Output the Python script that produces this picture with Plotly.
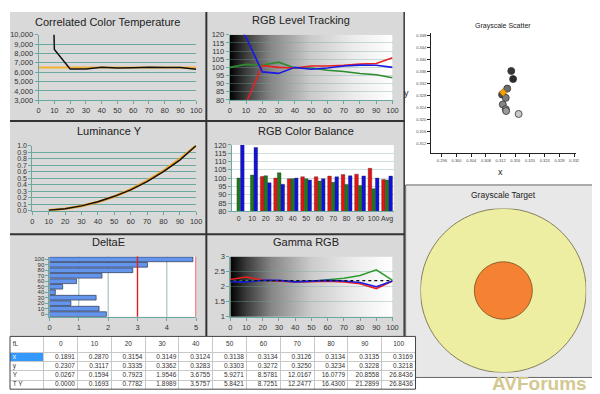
import base64
import plotly.graph_objects as go

# ---------------- data ----------------
levels = [0, 10, 20, 30, 40, 50, 60, 70, 80, 90, 100]
level_labels = [str(v) for v in levels]
balance_labels = level_labels + ["Avg"]

cct_measured = [77000, 8430, 6330, 6340, 6530, 6440, 6480, 6540, 6510, 6510, 6320]
cct_target = [6500] * 11

red_level = [50, 78, 101.0, 100.0, 99.6, 100.8, 100.8, 101.2, 102.1, 102.4, 105.9]
green_level = [100.0, 101.8, 101.4, 103.2, 99.6, 99.6, 98.2, 97.5, 96.2, 95.5, 93.6]
blue_level = [135, 118.5, 97.2, 96.3, 100.0, 98.8, 99.6, 100.8, 101.4, 101.3, 100.0]
avg_red, avg_green, avg_blue = 99.2, 98.8, 101.2

gamma_red = [2.24, 2.32, 2.22, 2.20, 2.16, 2.17, 2.18, 2.16, 2.10, 1.94, 2.19]
gamma_green = [2.18, 2.19, 2.21, 2.19, 2.17, 2.18, 2.24, 2.28, 2.37, 2.56, 2.21]
gamma_blue = [2.17, 2.16, 2.21, 2.21, 2.16, 2.19, 2.21, 2.19, 2.14, 2.00, 2.19]
gamma_target = [2.2] * 11

delta_e = [1.94, 1.69, 0.73, 1.59, 0.20, 0.45, 0.92, 1.79, 2.84, 3.34, 4.89]
delta_e_limits = [3, 5]
delta_e_grid = [1, 2, 4]

x_vals = [0.1891, 0.2870, 0.3154, 0.3149, 0.3124, 0.3138, 0.3134, 0.3126, 0.3134, 0.3135, 0.3169]
y_vals = [0.2307, 0.3117, 0.3335, 0.3362, 0.3283, 0.3303, 0.3272, 0.3250, 0.3234, 0.3228, 0.3218]
Y_vals = [0.0267, 0.1594, 0.7923, 1.9546, 3.6755, 5.9271, 8.5781, 12.0167, 16.0779, 20.8558, 26.8436]
TY_vals = [0.0000, 0.1693, 0.7782, 1.8989, 3.5757, 5.8421, 8.7251, 12.2477, 16.4300, 21.2899, 26.8436]
table_row_labels = ["x", "y", "Y", "T Y"]
table_corner = "fL"

white_point = (0.3127, 0.3290)
target_radii = [3.0, 1.05]

# ---------------- helpers ----------------
W, H = 600, 394
FONT = "Liberation Sans, Arial, sans-serif"
TEAL = "#6aa8a0"


def dx(a, b):
    return [a / W, b / W]


def dy(a, b):
    return [1 - b / H, 1 - a / H]


def ax(**kw):
    d = dict(showline=True, linecolor=TEAL, linewidth=1, ticks="outside", ticklen=3,
             tickcolor=TEAL, tickfont=dict(size=7.5, color="#333", family=FONT),
             zeroline=False, showgrid=False)
    d.update(kw)
    return d


fig = go.Figure()

# CCT
fig.add_trace(go.Scatter(x=levels, y=cct_target, mode="lines", line=dict(color="#f5b030", width=2.2),
                         xaxis="x", yaxis="y", hoverinfo="skip"))
fig.add_trace(go.Scatter(x=levels, y=cct_measured, mode="lines", line=dict(color="#111", width=1.5),
                         xaxis="x", yaxis="y", hoverinfo="skip"))

# RGB level tracking
for vals, col in [(green_level, "#2e8b2e"), (red_level, "#e82020"), (blue_level, "#1a1ae6")]:
    fig.add_trace(go.Scatter(x=levels, y=vals, mode="lines", line=dict(color=col, width=1.6),
                             xaxis="x2", yaxis="y2", hoverinfo="skip"))

# Luminance
lum_meas = [v / Y_vals[-1] for v in Y_vals]
lum_target = [v / TY_vals[-1] for v in TY_vals]
fig.add_trace(go.Scatter(x=levels[1:], y=lum_target[1:], mode="lines", line=dict(color="#f5a020", width=2.6),
                         xaxis="x3", yaxis="y3", hoverinfo="skip"))
fig.add_trace(go.Scatter(x=levels[1:], y=lum_meas[1:], mode="lines", line=dict(color="#111", width=1.4),
                         xaxis="x3", yaxis="y3", hoverinfo="skip"))

# RGB colour balance
for vals, avg, col in [(red_level, avg_red, "#ee1010"), (green_level, avg_green, "#1c7a1c"),
                       (blue_level, avg_blue, "#1010e0")]:
    fig.add_trace(go.Bar(x=balance_labels, y=list(vals) + [avg],
                         marker=dict(color=col, line=dict(color="#333", width=0.4)),
                         xaxis="x4", yaxis="y4", hoverinfo="skip"))

# DeltaE
fig.add_trace(go.Bar(y=level_labels, x=delta_e, orientation="h", width=0.86,
                     marker=dict(color="#6495ed", line=dict(color="#2a3550", width=0.7)),
                     xaxis="x5", yaxis="y5", hoverinfo="skip"))

# Gamma
for vals, col in [(gamma_green, "#2e9b2e"), (gamma_red, "#e82020"), (gamma_blue, "#1a1ae6")]:
    fig.add_trace(go.Scatter(x=levels, y=vals, mode="lines", line=dict(color=col, width=1.6),
                             xaxis="x6", yaxis="y6", hoverinfo="skip"))
fig.add_trace(go.Scatter(x=levels, y=gamma_target, mode="lines", line=dict(color="#111", width=1.2, dash="dot"),
                         xaxis="x6", yaxis="y6", hoverinfo="skip"))

# Grayscale scatter
shades = ["#2a2a2a", "#363636", "#4a4a4a", "#6e6e6e", "#7c7c7c", "#848484", "#8e8e8e", "#9a9a9a", "#c8c8c8"]
for i in range(2, 11):
    fig.add_trace(go.Scatter(x=[x_vals[i]], y=[y_vals[i]], mode="markers",
                             marker=dict(size=7, color=shades[i - 2], line=dict(color="#333", width=0.8)),
                             xaxis="x7", yaxis="y7", hoverinfo="skip"))
fig.add_trace(go.Scatter(x=[white_point[0]], y=[white_point[1]], mode="markers",
                         marker=dict(size=6, symbol="diamond", color="#f5a000", line=dict(color="#7a5000", width=0.6)),
                         xaxis="x7", yaxis="y7", hoverinfo="skip"))

# Table (drawn on its own cartesian grid: column index across, row index down)
TFONT = dict(size=6.5, color="#333", family=FONT)
n_rows = len(table_row_labels)
header_y = n_rows + 0.9
col_idx = list(range(1, len(levels) + 1))
fig.add_trace(go.Scatter(x=col_idx, y=[header_y] * len(levels),
                         text=level_labels, mode="text", textposition="middle center",
                         textfont=TFONT, xaxis="x9", yaxis="y9", hoverinfo="skip"))
fig.add_trace(go.Scatter(x=[-0.42] * (n_rows + 1), y=[header_y] + [n_rows - 0.5 - r for r in range(n_rows)],
                         text=[table_corner] + table_row_labels, mode="text", textposition="middle right",
                         textfont=dict(size=6.5, color=["#333", "white", "#333", "#333", "#333"], family=FONT),
                         xaxis="x9", yaxis="y9", hoverinfo="skip"))
for r, row in enumerate([x_vals, y_vals, Y_vals, TY_vals]):
    fig.add_trace(go.Scatter(x=[c + 0.42 for c in col_idx], y=[n_rows - 0.5 - r] * len(row),
                             text=[f"{v:.4f}" for v in row], mode="text", textposition="middle left",
                             textfont=TFONT, xaxis="x9", yaxis="y9", hoverinfo="skip"))


def grad_img():
    svg = ("<svg xmlns='http://www.w3.org/2000/svg' width='100' height='10' viewBox='0 0 100 10' "
           "preserveAspectRatio='none'><defs><linearGradient id='g' x1='0' x2='1' y1='0' y2='0'>"
           "<stop offset='0' stop-color='#000'/><stop offset='0.1' stop-color='#3c3c3c'/>"
           "<stop offset='0.25' stop-color='#858585'/><stop offset='0.5' stop-color='#cbcbcb'/>"
           "<stop offset='0.75' stop-color='#ebebeb'/><stop offset='1' stop-color='#fff'/>"
           "</linearGradient></defs><rect width='100' height='10' fill='url(#g)'/></svg>")
    return "data:image/svg+xml;base64," + base64.b64encode(svg.encode()).decode()


images = []
for n in ("2", "6"):
    images.append(dict(source=grad_img(), xref=f"x{n} domain", yref=f"y{n} domain", x=0, y=1, sizex=1, sizey=1,
                       xanchor="left", yanchor="top", sizing="stretch", layer="below"))

shapes = [
    dict(type="rect", xref="paper", yref="paper", x0=0, x1=399 / W, y0=1 - 332 / H, y1=1, fillcolor="#d9d9d9",
         line=dict(width=0), layer="below"),
    dict(type="line", xref="paper", yref="paper", x0=0, x1=400 / W, y0=1 - 111.5 / H, y1=1 - 111.5 / H,
         line=dict(color="#333", width=2), layer="below"),
    dict(type="line", xref="paper", yref="paper", x0=0, x1=400 / W, y0=1 - 227.5 / H, y1=1 - 227.5 / H,
         line=dict(color="#333", width=2), layer="below"),
    dict(type="line", xref="paper", yref="paper", x0=199 / W, x1=199 / W, y0=1 - 332 / H, y1=1,
         line=dict(color="#333", width=2), layer="below"),
    dict(type="line", xref="paper", yref="paper", x0=399.5 / W, x1=399.5 / W, y0=1 - 332 / H, y1=1,
         line=dict(color="#333", width=1.5), layer="below"),
    dict(type="rect", xref="paper", yref="paper", x0=401 / W, x1=599 / W, y0=1 - 374 / H, y1=1 - 177 / H,
         fillcolor="#e8e8e8", line=dict(color="#666", width=1), layer="below"),
]
for n in ("4", "5"):
    shapes.append(dict(type="rect", xref=f"x{n} domain", yref=f"y{n} domain", x0=0, x1=1, y0=0, y1=1,
                       fillcolor="white", line=dict(width=0), layer="below"))
for v in delta_e_grid:
    shapes.append(dict(type="line", xref="x5", yref="y5 domain", x0=v, x1=v, y0=0, y1=1,
                       line=dict(color="#8fbab4", width=1), layer="below"))
for v in delta_e_limits:
    shapes.append(dict(type="line", xref="x5", yref="y5 domain", x0=v, x1=v, y0=0, y1=1,
                       line=dict(color="#e02020", width=1.4), layer="above"))
ring_cols = [("#eeeea2", "#6b6440"), ("#f58232", "#7a4a20")]
for r, (fc, lc) in zip(target_radii, ring_cols):
    shapes.append(dict(type="circle", xref="x8", yref="y8", x0=-r, x1=r, y0=-r, y1=r,
                       fillcolor=fc, line=dict(color=lc, width=0.8), layer="below"))
# table background, highlighted "x" cell and outer frame
shapes.append(dict(type="rect", xref="x9 domain", yref="y9 domain", x0=0, x1=1, y0=0, y1=1,
                   fillcolor="white", line=dict(width=0), layer="below"))
shapes.append(dict(type="rect", xref="x9", yref="y9", x0=-0.5, x1=0.5, y0=n_rows - 1, y1=n_rows,
                   fillcolor="#3399ff", line=dict(width=0), layer="below"))
shapes.append(dict(type="rect", xref="x9 domain", yref="y9 domain", x0=0, x1=1, y0=0, y1=1,
                   fillcolor="rgba(0,0,0,0)", line=dict(color="#444", width=1), layer="above"))

ann = []


def title(text, px, py, size=11):
    ann.append(dict(text=text, x=px / W, y=1 - py / H, xref="paper", yref="paper", showarrow=False,
                    xanchor="center", yanchor="middle", font=dict(size=size, color="#222", family=FONT)))


title("Correlated Color Temperature", 99, 10)
title("RGB Level Tracking", 295, 8)
title("Luminance Y", 101, 122)
title("RGB Color Balance", 300, 122)
title("DeltaE", 100, 235)
title("Gamma RGB", 300, 235)
title("Grayscale Scatter", 500, 14, 7)
title("Grayscale Target", 500, 187, 8.5)
title("y", 402, 83, 9)
title("x", 497, 164, 9)
ann.append(dict(text="<b>AVForums</b>", x=537 / W, y=1 - 380 / H, xref="paper", yref="paper", showarrow=False,
                xanchor="center", yanchor="middle", borderpad=0,
                font=dict(size=19, color="#d4c891", family=FONT)))

faint = "rgba(110,165,160,0.35)"
tick10 = dict(tickmode="linear", tick0=0, dtick=10)
layout = dict(
    width=W, height=H, margin=dict(l=0, r=0, t=0, b=0), showlegend=False,
    paper_bgcolor="white", plot_bgcolor="rgba(0,0,0,0)",
    barmode="group", bargap=0.2, bargroupgap=0,
    font=dict(family=FONT),
    xaxis=ax(domain=dx(29, 188.7), range=[0, 100], anchor="y", **tick10),
    yaxis=ax(domain=dy(23.3, 90.3), range=[3000, 10000], dtick=1000, tickformat=",d", anchor="x",
             showgrid=True, gridcolor=TEAL, gridwidth=1),
    xaxis2=ax(domain=dx(222.7, 387.7), range=[0, 100], anchor="y2", **tick10),
    yaxis2=ax(domain=dy(23.3, 90), range=[80, 120], dtick=5, anchor="x2", showgrid=True, gridcolor=faint),
    xaxis3=ax(domain=dx(22.7, 188.7), range=[0, 100], anchor="y3", **tick10),
    yaxis3=ax(domain=dy(136.7, 203.3), range=[0, 1.0], dtick=0.1, tickformat=".1f", anchor="x3",
              showgrid=True, gridcolor=TEAL, tickfont=dict(size=7, color="#333", family=FONT)),
    xaxis4=ax(domain=dx(225, 389), type="category", anchor="y4", ticks="", tickangle=0,
              tickfont=dict(size=7, color="#333", family=FONT)),
    yaxis4=ax(domain=dy(136, 204), range=[80, 120], dtick=5, anchor="x4", showgrid=True, gridcolor=faint),
    xaxis5=ax(domain=dx(40, 188.7), range=[0, 5], dtick=1, anchor="y5"),
    yaxis5=ax(domain=dy(250.3, 312), type="category", anchor="x5", tickmode="array", tickvals=level_labels,
              tickfont=dict(size=6, color="#333", family=FONT)),
    xaxis6=ax(domain=dx(223.3, 387.7), range=[0, 100], anchor="y6", **tick10),
    yaxis6=ax(domain=dy(250.3, 312), range=[1, 3], dtick=0.5, anchor="x6", showgrid=True, gridcolor=faint),
    xaxis7=ax(domain=dx(426.7, 574), range=[0.29305, 0.33262], tickmode="linear", tick0=0.296, dtick=0.004,
              tickformat=".3f", anchor="y7", linecolor="#222", tickcolor="#222",
              tickfont=dict(size=4, color="#444", family=FONT)),
    yaxis7=ax(domain=dy(21.7, 144), range=[0.30883, 0.34885], tickmode="linear", tick0=0.312, dtick=0.004,
              tickformat=".3f", anchor="x7", linecolor="#222", tickcolor="#222",
              tickfont=dict(size=4, color="#444", family=FONT)),
    xaxis8=dict(domain=dx(416, 584), range=[-3, 3], visible=False, anchor="y8"),
    yaxis8=dict(domain=dy(201, 369), range=[-3, 3], visible=False, anchor="x8"),
    xaxis9=dict(domain=dx(0, 411), range=[-0.5, len(levels) + 0.5], anchor="y9", showticklabels=False,
                showline=False, zeroline=False, showgrid=True, gridcolor="#c8c8c8", gridwidth=0.6,
                tickmode="linear", tick0=0.5, dtick=1, ticks=""),
    yaxis9=dict(domain=dy(332, 386), range=[0, n_rows + 1.8], anchor="x9", showticklabels=False,
                showline=False, zeroline=False, showgrid=True, gridcolor="#c8c8c8", gridwidth=0.6,
                tickmode="array", tickvals=list(range(1, n_rows + 1)), ticks=""),
    shapes=shapes, annotations=ann, images=images,
)
fig.update_layout(**layout)
fig.write_html("out.html")
